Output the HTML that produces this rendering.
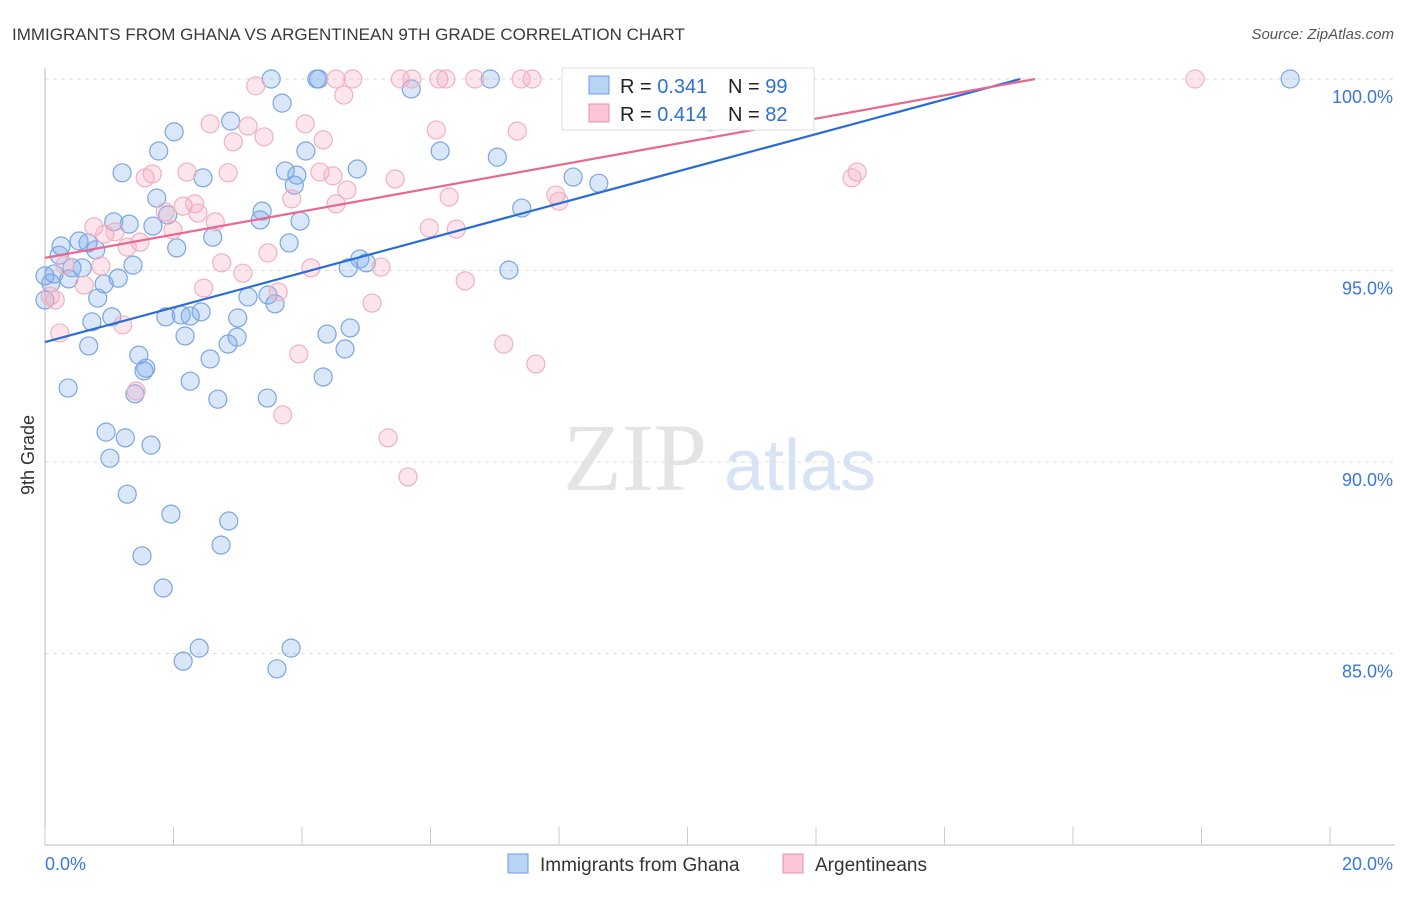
<!DOCTYPE html>
<html><head><meta charset="utf-8"><style>
body{margin:0;background:#fff;font-family:"Liberation Sans",sans-serif}
svg text{font-family:"Liberation Sans",sans-serif}
</style></head><body>
<svg id="c" width="1406" height="892" xmlns="http://www.w3.org/2000/svg">
<text x="12" y="40" font-size="17" fill="#3a3a3a">IMMIGRANTS FROM GHANA VS ARGENTINEAN 9TH GRADE CORRELATION CHART</text>
<text x="1394" y="39" font-size="15" fill="#555" text-anchor="end" font-style="italic">Source: ZipAtlas.com</text>
<text x="34" y="455" font-size="18" fill="#333" text-anchor="middle" transform="rotate(-90 34 455)">9th Grade</text>
<g>
<text x="635" y="490" font-size="96" fill="#e4e4e4" text-anchor="middle" style="font-family:'Liberation Serif',serif">ZIP</text>
<text x="800" y="490" font-size="72" fill="#d6e4f5" text-anchor="middle">atlas</text>
</g>
<g id="grid"></g><g id="axes"></g><g id="pts"></g><g id="lines"></g>
<g>
<rect x="562" y="68" width="252" height="62" fill="#fff" stroke="#ddd"/>
<rect x="589" y="76" width="20" height="18" fill="#b9d3f5" stroke="#6a9be0"/>
<text x="620" y="93" font-size="20" fill="#222">R = <tspan fill="#2d6fd3">0.341</tspan></text>
<text x="728" y="93" font-size="20" fill="#222">N = <tspan fill="#2d6fd3">99</tspan></text>
<rect x="589" y="104" width="20" height="18" fill="#f8c6d4" stroke="#e890a8"/>
<text x="620" y="121" font-size="20" fill="#222">R = <tspan fill="#2d6fd3">0.414</tspan></text>
<text x="728" y="121" font-size="20" fill="#222">N = <tspan fill="#2d6fd3">82</tspan></text>
</g>
<g>
<rect x="508" y="854" width="20" height="19" fill="#b9d3f5" stroke="#6a9be0"/>
<text x="540" y="871" font-size="19" fill="#333">Immigrants from Ghana</text>
<rect x="783" y="854" width="20" height="19" fill="#f8c6d4" stroke="#e890a8"/>
<text x="815" y="871" font-size="19" fill="#333">Argentineans</text>
</g>
</svg>
<script>
const yTicks=[100,95,90,85];
const yTickLabels=["100.0%","95.0%","90.0%","85.0%"];
const xTicks=[0,2,4,6,8,10,12,14,16,18,20];
const xTickLabels=["0.0%","20.0%"];
const ghanaX=[3.52,4.23,4.26,6.93,19.38,5.70,3.69,2.89,2.01,1.77,6.15,4.06,7.04,1.20,3.74,4.86,2.46,3.92,3.88,8.22,8.62,1.74,7.42,3.38,1.91,1.07,1.31,3.35,3.97,1.68,2.61,0.25,0.53,0.67,3.80,2.05,0.79,0.22,4.90,0.42,0.58,4.72,7.22,5.00,1.37,0.14,0.09,1.14,0.37,0.92,0.82,3.16,3.47,3.58,1.88,2.12,2.26,2.43,3.00,0.73,1.04,4.39,4.75,2.18,2.99,2.85,0.68,4.67,1.46,2.57,1.57,1.54,0.36,2.26,4.33,1.40,2.69,3.46,0.95,1.25,1.65,1.01,1.28,1.96,2.86,2.74,1.51,1.84,2.40,2.15,3.83,3.61,0.0,0.0];
const ghanaY=[100,100,100,100,100,99.74,99.37,98.90,98.62,98.12,98.12,98.12,97.96,97.55,97.60,97.65,97.42,97.49,97.23,97.44,97.28,96.89,96.63,96.55,96.45,96.27,96.21,96.32,96.29,96.16,95.87,95.64,95.77,95.72,95.72,95.59,95.54,95.40,95.30,95.07,95.07,95.07,95.01,95.20,95.14,94.91,94.67,94.80,94.78,94.65,94.28,94.31,94.36,94.13,93.79,93.84,93.81,93.92,93.76,93.66,93.79,93.34,93.50,93.29,93.26,93.08,93.03,92.95,92.79,92.69,92.45,92.38,91.93,92.11,92.22,91.78,91.64,91.67,90.78,90.63,90.44,90.10,89.16,88.64,88.46,87.83,87.55,86.71,85.14,84.80,85.14,84.60,94.86,94.23];
const argX=[3.28,4.53,4.79,5.53,5.71,6.13,6.24,6.69,7.41,7.58,8.20,9.26,17.90,4.65,2.57,3.16,4.05,6.09,7.35,3.41,2.93,4.33,2.21,1.67,1.56,2.85,4.28,4.48,5.45,12.64,12.56,4.70,6.29,7.95,8.00,3.84,4.53,2.15,2.33,1.87,2.38,2.65,1.99,0.76,0.93,1.09,5.98,6.40,1.48,1.28,3.47,2.75,0.87,0.31,5.23,4.14,3.08,6.54,0.61,2.47,3.63,5.09,0.08,0.16,1.21,0.23,7.14,3.95,7.64,1.42,3.70,5.34,5.65,10.35];
const argY=[99.82,100,100,100,100,100,100,100,100,100,100,100,100,99.58,98.83,98.77,98.83,98.67,98.64,98.49,98.36,98.41,97.57,97.52,97.42,97.55,97.57,97.47,97.39,97.57,97.42,97.10,96.92,96.97,96.81,96.87,96.74,96.68,96.74,96.53,96.50,96.27,96.06,96.14,95.95,96.01,96.11,96.08,95.74,95.61,95.46,95.20,95.12,95.14,95.09,95.07,94.93,94.73,94.62,94.54,94.44,94.15,94.33,94.23,93.58,93.37,93.08,92.82,92.56,91.85,91.23,90.63,89.61,98.88];
const ghanaTrend=[[0,93.13],[15.18,100]];
const argTrend=[[0,95.33],[15.41,100]];
const NS="http://www.w3.org/2000/svg";
const X0=45,XW=64.25,Y0=79,YS=38.3;
function sx(v){return X0+v*XW}
function sy(v){return Y0+(100-v)*YS}
function mk(tag,attrs,parent){const e=document.createElementNS(NS,tag);for(const k in attrs)e.setAttribute(k,attrs[k]);document.getElementById(parent).appendChild(e);return e}
yTicks.forEach((t,i)=>{
 const l=mk('line',{x1:45,x2:1395,y1:sy(t),y2:sy(t),stroke:'#ddd','stroke-dasharray':'4 4'},'grid');
 
 
 const tx=mk('text',{x:1393,y:sy(t)+24,'font-size':18,fill:'#3b78d8','text-anchor':'end'},'axes');
 tx.textContent=yTickLabels[i];
 
 
});
const ax=mk('line',{x1:45,x2:45,y1:68,y2:845,stroke:'#bbb'},'axes');


const bx=mk('line',{x1:45,x2:1395,y1:845,y2:845,stroke:'#bbb'},'axes');


xTicks.forEach(t=>{
 const l=mk('line',{x1:sx(t),x2:sx(t),y1:827,y2:845,stroke:'#ccc'},'axes');
 
 
});
const xl0=mk('text',{x:45,y:870,'font-size':18,fill:'#3b78d8'},'axes');
xl0.textContent=xTickLabels[0];


const xl1=mk('text',{x:1393,y:870,'font-size':18,fill:'#3b78d8','text-anchor':'end'},'axes');
xl1.textContent=xTickLabels[1];


ghanaX.forEach((v,i)=>{
 const c=mk('circle',{cx:sx(v),cy:sy(ghanaY[i]),r:9,fill:'rgba(120,168,232,0.28)',stroke:'#7aa5e3','stroke-width':1.2},'pts');
 
 
});
argX.forEach((v,i)=>{
 const c=mk('circle',{cx:sx(v),cy:sy(argY[i]),r:9,fill:'rgba(245,165,188,0.28)',stroke:'#f0b0c2','stroke-width':1.2},'pts');
 
 
});
const tl1=mk('line',{x1:sx(ghanaTrend[0][0]),y1:sy(ghanaTrend[0][1]),x2:sx(ghanaTrend[1][0]),y2:sy(ghanaTrend[1][1]),stroke:'#2a6dd6','stroke-width':2.2},'lines');


const tl2=mk('line',{x1:sx(argTrend[0][0]),y1:sy(argTrend[0][1]),x2:sx(argTrend[1][0]),y2:sy(argTrend[1][1]),stroke:'#e8688f','stroke-width':2.2},'lines');


</script>
</body></html>
